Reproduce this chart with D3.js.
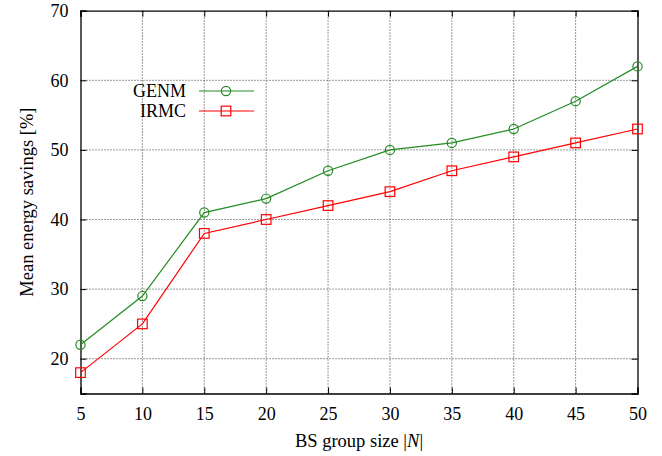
<!DOCTYPE html>
<html><head><meta charset="utf-8">
<script src="https://cdn.jsdelivr.net/npm/d3@7"></script>
<style>body{margin:0;background:#fff}svg{display:block}text{font-family:"Liberation Serif","Times New Roman",serif;fill:#000}</style>
</head><body><svg id="c" width="662" height="456"></svg>
<script>
const sizes = [5,10,15,20,25,30,35,40,45,50];
const genm = [22,29,41,43,47,50,51,53,57,62];
const irmc = [18,25,38,40,42,44,47,49,51,53];
const yTicks = [20,30,40,50,60,70];
const seriesNames = ["GENM","IRMC"];
const colors = ["#228b22","#ff0000"];

const svg = d3.select("#c");
const L=80.5, R=637.5, T=10.7, B=393.5;
const x = d3.scaleLinear().domain([5,50]).range([L,R]);
const y = d3.scaleLinear().domain([15,70]).range([B,T]);

// grid
const g = svg.append("g");
g.selectAll(".gx").data(sizes.slice(1,-1)).enter().append("line")
 .attr("x1",d=>x(d)).attr("x2",d=>x(d)).attr("y1",B).attr("y2",T)
 .attr("stroke","#333").attr("stroke-width",1).attr("stroke-dasharray","1,2");
g.selectAll(".gy").data(yTicks.slice(0,-1)).enter().append("line")
 .attr("x1",L).attr("x2",R).attr("y1",d=>y(d)).attr("y2",d=>y(d))
 .attr("stroke","#333").attr("stroke-width",1).attr("stroke-dasharray","1,2");

// axes
const xb = svg.append("g").attr("transform",`translate(0,${B})`)
 .call(d3.axisBottom(x).tickValues(sizes).tickSize(-6).tickPadding(14).tickFormat(d3.format("d")));
const xt = svg.append("g").attr("transform",`translate(0,${T})`)
 .call(d3.axisTop(x).tickValues(sizes).tickSize(-6).tickFormat(""));
const yl = svg.append("g").attr("transform",`translate(${L},0)`)
 .call(d3.axisLeft(y).tickValues(yTicks).tickSize(-6).tickPadding(12).tickFormat(d3.format("d")));
const yr = svg.append("g").attr("transform",`translate(${R},0)`)
 .call(d3.axisRight(y).tickValues(yTicks).tickSize(-6).tickFormat(""));
[xb,xt,yl,yr].forEach(a=>{
  a.attr("font-family",null).attr("font-size",null);
  a.select(".domain").attr("stroke","#000").attr("stroke-width",1.3);
  a.selectAll(".tick line").attr("stroke","#000");
  a.selectAll("text").attr("font-size",18);
});

// axis labels
svg.append("text").attr("x",(L+R)/2).attr("y",447).attr("text-anchor","middle")
 .attr("font-size",18.5).html('BS group size |<tspan font-style="italic">N</tspan>|');
svg.append("text").attr("transform",`translate(32.5,${(T+B)/2}) rotate(-90)`)
 .attr("text-anchor","middle").attr("font-size",18.5).text("Mean energy savings [%]");

// series
const all = [genm, irmc];
const line = d3.line().x((d,i)=>x(sizes[i])).y(d=>y(d));
all.forEach((s,k)=>{
  svg.append("path").attr("d",line(s)).attr("fill","none").attr("stroke",colors[k]).attr("stroke-width",1.2);
  if(k===0){
    svg.selectAll(".c"+k).data(s).enter().append("circle")
     .attr("cx",(d,i)=>x(sizes[i])).attr("cy",d=>y(d)).attr("r",4.6)
     .attr("fill","none").attr("stroke",colors[k]).attr("stroke-width",1.2);
  } else {
    svg.selectAll(".s"+k).data(s).enter().append("rect")
     .attr("x",(d,i)=>x(sizes[i])-4.8).attr("y",d=>y(d)-4.8).attr("width",9.6).attr("height",9.6)
     .attr("fill","none").attr("stroke",colors[k]).attr("stroke-width",1.2);
  }
});

// legend
seriesNames.forEach((n,k)=>{
  const ly = 91 + k*20;
  svg.append("text").attr("x",186).attr("y",ly+6).attr("text-anchor","end").attr("font-size",18).text(n);
  svg.append("line").attr("x1",199).attr("x2",254).attr("y1",ly).attr("y2",ly).attr("stroke",colors[k]).attr("stroke-width",1.2);
  if(k===0) svg.append("circle").attr("cx",226).attr("cy",ly).attr("r",4.6).attr("fill","none").attr("stroke",colors[k]).attr("stroke-width",1.2);
  else svg.append("rect").attr("x",221.2).attr("y",ly-4.8).attr("width",9.6).attr("height",9.6).attr("fill","none").attr("stroke",colors[k]).attr("stroke-width",1.2);
});
</script></body></html>
